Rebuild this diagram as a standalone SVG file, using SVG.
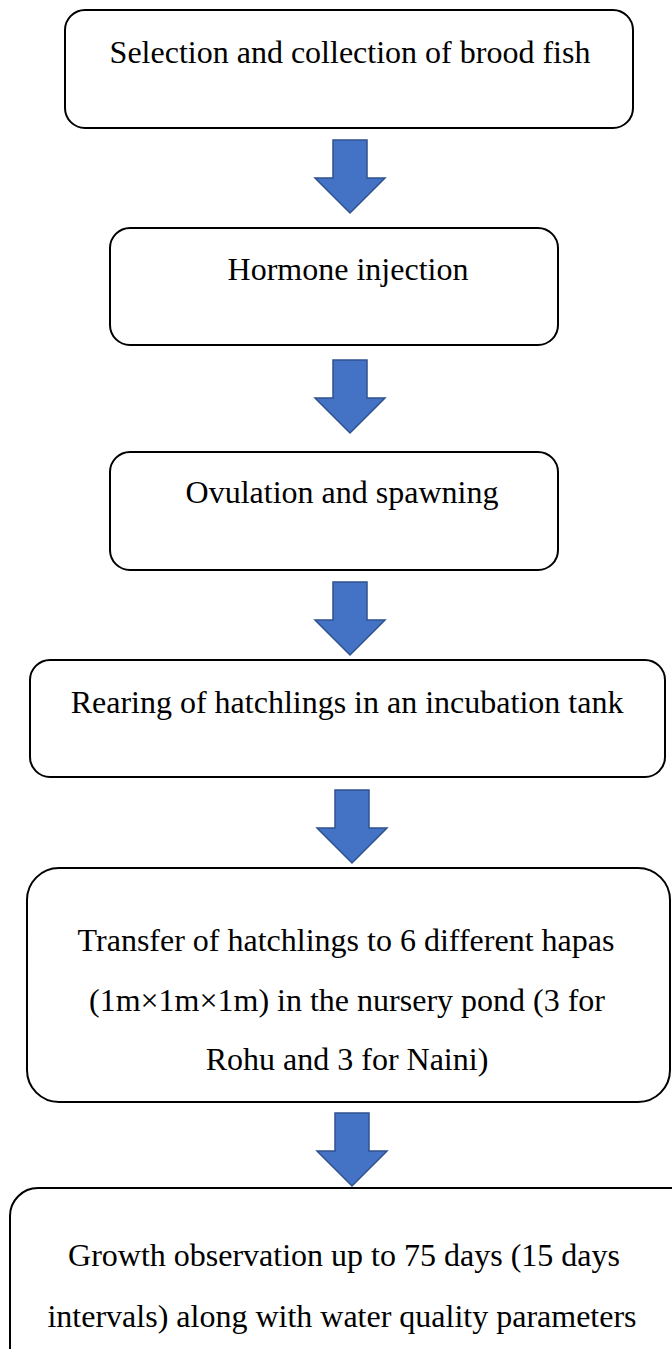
<svg xmlns="http://www.w3.org/2000/svg" width="672" height="1349" viewBox="0 0 672 1349">
<style>
.box{fill:#fff;stroke:#000;stroke-width:2}
.t{font-family:"Liberation Serif","Times New Roman",serif;font-size:32px;fill:#000;text-anchor:middle}
.arr{fill:#4472C4;stroke:#2F528F;stroke-width:1.5;stroke-linejoin:miter}
</style>
<defs>
<path id="arrow" d="M-17,0 H17 V38 H35 L0,73 L-35,38 H-17 Z"/>
</defs>
<rect width="672" height="1349" fill="#fff"/>
<g id="n1"><rect class="box" x="65" y="10" width="568" height="118" rx="20"/><text class="t" x="350" y="63">Selection and collection of brood fish</text></g>
<g id="n2"><rect class="box" x="110" y="228" width="448" height="117" rx="20"/><text class="t" x="348" y="280">Hormone injection</text></g>
<g id="n3"><rect class="box" x="110" y="452" width="448" height="118" rx="20"/><text class="t" x="342" y="503">Ovulation and spawning</text></g>
<g id="n4"><rect class="box" x="30" y="660" width="635" height="117" rx="20"/><text class="t" x="347" y="713">Rearing of hatchlings in an incubation tank</text></g>
<g id="n5"><rect class="box" x="27" y="868" width="643" height="234" rx="32"/><text class="t" x="346" y="951">Transfer of hatchlings to 6 different hapas</text><text class="t" x="347" y="1011">(1m×1m×1m) in the nursery pond (3 for</text><text class="t" x="347" y="1070">Rohu and 3 for Naini)</text></g>
<g id="n6"><rect class="box" x="10" y="1188" width="700" height="200" rx="28"/><text class="t" x="344" y="1266">Growth observation up to 75 days (15 days</text><text class="t" x="342" y="1327">intervals) along with water quality parameters</text></g>
<g id="connectors">
<use href="#arrow" class="arr" x="350" y="140"/>
<use href="#arrow" class="arr" x="350" y="360"/>
<use href="#arrow" class="arr" x="350" y="582"/>
<use href="#arrow" class="arr" x="352" y="790"/>
<use href="#arrow" class="arr" x="352" y="1113"/>
</g>
</svg>
